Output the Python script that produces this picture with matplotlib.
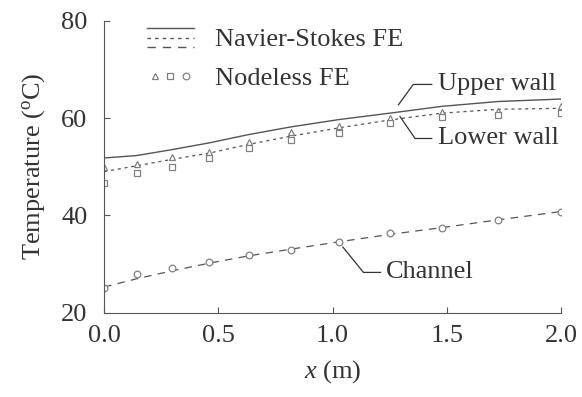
import matplotlib
matplotlib.use("Agg")
import matplotlib.pyplot as plt
from matplotlib.lines import Line2D
from matplotlib.legend_handler import HandlerBase, HandlerTuple

plt.rcParams['font.family'] = ['Liberation Serif', 'DejaVu Serif']
plt.rcParams['mathtext.fontset'] = 'custom'
plt.rcParams['mathtext.rm'] = 'Liberation Serif'
plt.rcParams['mathtext.it'] = 'Liberation Serif:italic'

# ---- data ----
x_nodes = [0.0, 0.143, 0.295, 0.46, 0.632, 0.82, 1.03, 1.25, 1.478, 1.726, 2.0]
# Navier-Stokes FE curves
ns_upper = [51.8, 52.3, 53.5, 54.9, 56.6, 58.2, 59.7, 61.0, 62.4, 63.4, 63.9]
ns_lower = [49.0, 50.2, 51.5, 52.8, 54.6, 56.3, 58.0, 59.6, 61.0, 61.8, 62.0]
ns_channel = [25.3, 27.0, 28.6, 30.2, 31.7, 33.1, 34.6, 36.1, 37.5, 39.1, 40.8]
# Nodeless FE points
nl_upper = [50.0, 50.6, 52.1, 53.1, 55.1, 57.2, 58.4, 60.1, 61.3, 61.5, 62.5]
nl_lower = [46.6, 48.7, 50.0, 51.7, 53.8, 55.5, 56.9, 58.9, 60.3, 60.6, 61.0]
nl_channel = [25.0, 28.0, 29.2, 30.5, 31.9, 32.9, 34.6, 36.3, 37.4, 39.1, 40.8]

x_ticks = [0.0, 0.5, 1.0, 1.5, 2.0]
x_ticklabels = ['0.0', '0.5', '1.0', '1.5', '2.0']
y_ticks = [20, 40, 60, 80]
y_ticklabels = ['20', '40', '60', '80']

TXT = '#333333'
LN = '#555555'
MK = '#808080'
FS = 19

fig = plt.figure(figsize=(5.82, 3.97), dpi=100)
ax = fig.add_axes([0.179, 0.212, 0.785, 0.736])

ax.plot(x_nodes, ns_upper, '-', color=LN, lw=1.0)
ax.plot(x_nodes, ns_lower, color=LN, lw=0.9, linestyle=(0, (2.5, 3.0)))
ax.plot(x_nodes, ns_channel, color=LN, lw=0.9, linestyle=(0, (6, 5)))

mk = dict(linestyle='none', markerfacecolor='white', markeredgecolor=MK,
          markeredgewidth=0.9, markersize=4.8)
ax.plot(x_nodes, nl_upper, marker='^', **mk)
ax.plot(x_nodes, nl_lower, marker='s', **mk)
ax.plot(x_nodes, nl_channel, marker='o', **mk)

ax.set_xlim(0, 2.0)
ax.set_ylim(20, 80)
ax.set_xticks(x_ticks)
ax.set_xticklabels(x_ticklabels)
ax.set_yticks(y_ticks)
ax.set_yticklabels(y_ticklabels)
ax.tick_params(direction='in', length=4, width=0.8, colors=LN,
               labelcolor=TXT, labelsize=FS)
ax.tick_params(axis='y', pad=12)
ax.tick_params(axis='x', pad=9)
for s in ['top', 'right']:
    ax.spines[s].set_visible(False)
for s in ['left', 'bottom']:
    ax.spines[s].set_color(LN)
    ax.spines[s].set_linewidth(0.8)

ax.set_xlabel('$x$ (m)', fontsize=FS, color=TXT, labelpad=8)
ax.set_ylabel('Temperature ($^{\\rm o}$C)', fontsize=FS, color=TXT, labelpad=10)

# annotations
kw = dict(fontsize=FS, color=TXT, va='center', ha='left')
ax.plot([1.288, 1.353, 1.434], [62.7, 66.9, 66.9], color=TXT, lw=0.9)
ax.text(1.46, 66.9, 'Upper wall', **kw)
ax.plot([1.295, 1.361, 1.434], [60.3, 55.8, 55.8], color=TXT, lw=0.9)
ax.text(1.46, 56.0, 'Lower wall', **kw)
ax.plot([1.045, 1.135, 1.21], [33.5, 28.3, 28.3], color=TXT, lw=0.9)
ax.text(1.235, 28.3, 'Channel', **kw)


class ThreeLines(HandlerBase):
    def create_artists(self, legend, orig_handle, xdescent, ydescent,
                       width, height, fontsize, trans):
        arts = []
        styles = ['-', (0, (2.5, 3.0)), (0, (6, 5))]
        ys = [height * 1.02, height * 0.48, -height * 0.02]
        for st, yy in zip(styles, ys):
            l = Line2D([-xdescent, -xdescent + width], [yy - ydescent] * 2,
                       color=LN, lw=1.0, linestyle=st)
            l.set_transform(trans)
            arts.append(l)
        return arts


ns_handle = Line2D([], [])
h_tri = Line2D([], [], marker='^', **mk)
h_sq = Line2D([], [], marker='s', **mk)
h_ci = Line2D([], [], marker='o', **mk)

leg = ax.legend([ns_handle, (h_tri, h_sq, h_ci)],
                ['Navier-Stokes FE', 'Nodeless FE'],
                handler_map={ns_handle: ThreeLines(),
                             tuple: HandlerTuple(ndivide=None, pad=0.0)},
                loc='upper left', bbox_to_anchor=(0.093, 0.975),
                frameon=False, fontsize=FS, handlelength=1.8,
                handletextpad=0.8, borderpad=0.0, borderaxespad=0.0,
                labelspacing=0.58)
for t in leg.get_texts():
    t.set_color(TXT)

fig.savefig('out.png', dpi=100)
